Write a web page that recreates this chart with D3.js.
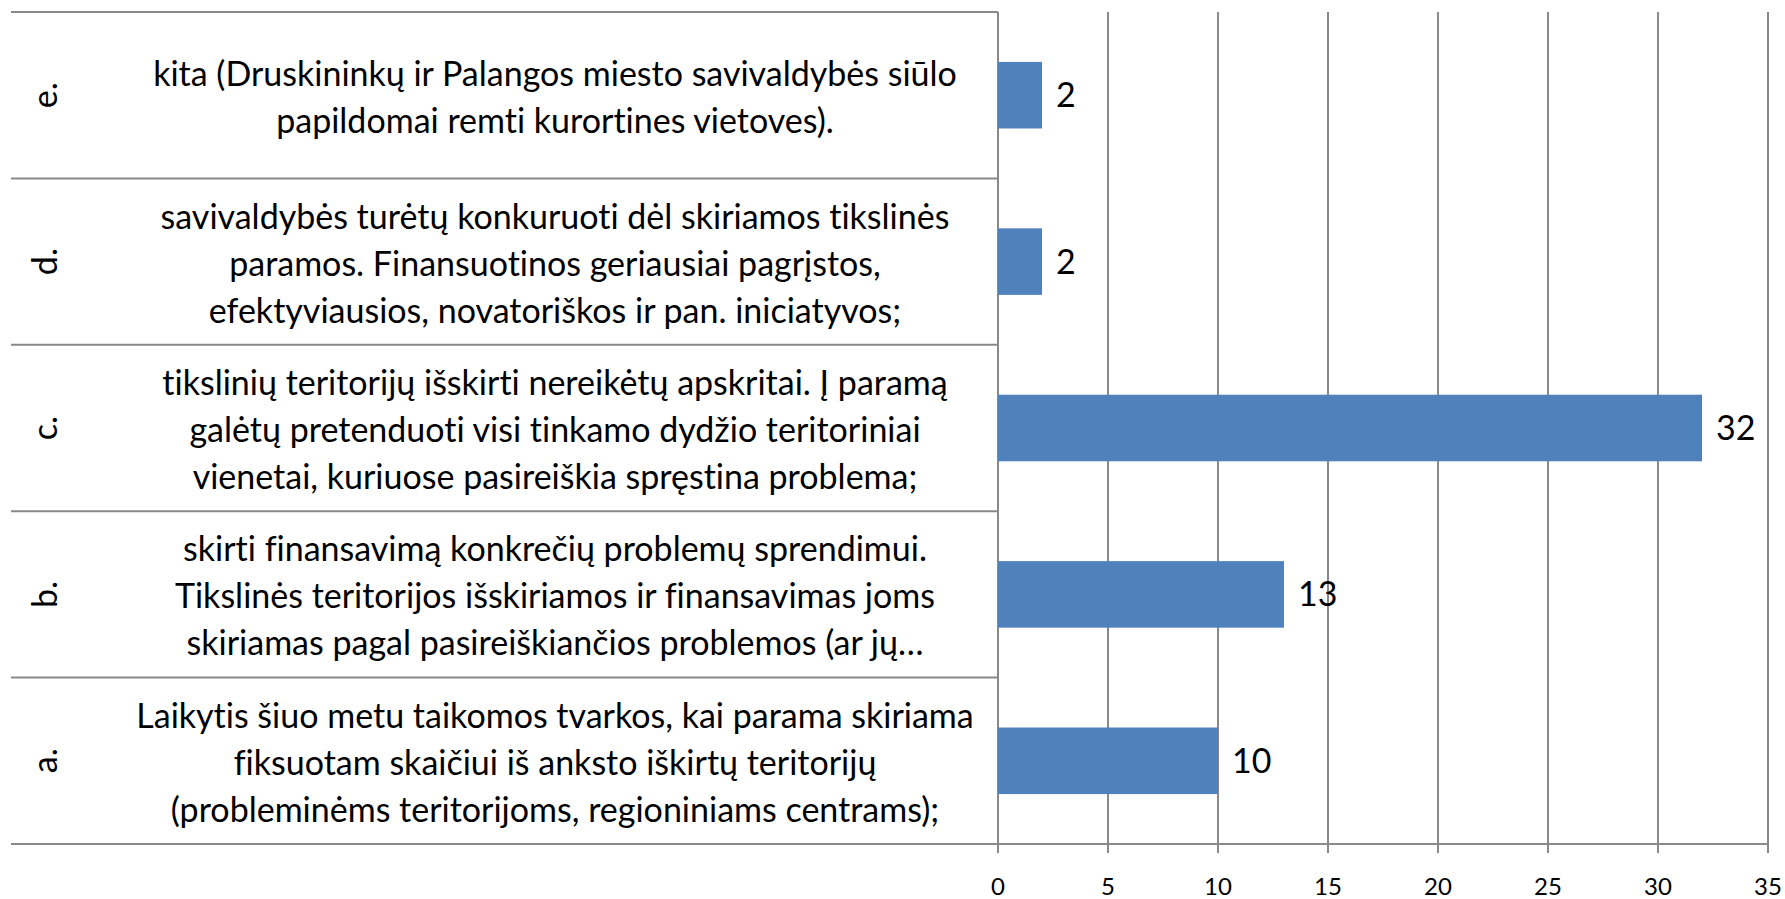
<!DOCTYPE html>
<html>
<head>
<meta charset="utf-8">
<script src="https://cdn.jsdelivr.net/npm/d3@7"></script>
<style>
  html, body { margin: 0; padding: 0; background: #fff; }
  svg { display: block; }
  text { font-family: Lato, "Open Sans", sans-serif; fill: #000; font-variant-ligatures: none; }
</style>
</head>
<body>
<svg id="chart" width="1785" height="899"></svg>
<script>
// ---- data ----
const categories = ["e.", "d.", "c.", "b.", "a."];
const values = [2, 2, 32, 13, 10];
const descriptions = [
  ["kita (Druskininkų ir Palangos miesto savivaldybės siūlo", "papildomai remti kurortines vietoves)."],
  ["savivaldybės turėtų konkuruoti dėl skiriamos tikslinės", "paramos. Finansuotinos geriausiai pagrįstos,", "efektyviausios, novatoriškos ir pan. iniciatyvos;"],
  ["tikslinių teritorijų išskirti nereikėtų apskritai. Į paramą", "galėtų pretenduoti visi tinkamo dydžio teritoriniai", "vienetai, kuriuose pasireiškia spręstina problema;"],
  ["skirti finansavimą konkrečių problemų sprendimui.", "Tikslinės teritorijos išskiriamos ir finansavimas joms", "skiriamas pagal pasireiškiančios problemos (ar jų…"],
  ["Laikytis šiuo metu taikomos tvarkos, kai parama skiriama", "fiksuotam skaičiui iš anksto iškirtų teritorijų", "(probleminėms teritorijoms, regioniniams centrams);"]
];
const xTicks = [0, 5, 10, 15, 20, 25, 30, 35];

// ---- layout ----
const tableLeft = 11, plotLeft = 998, plotRight = 1768, plotTop = 12, plotBottom = 844;
const gridColor = "#898989";
const barColor = "#4F81BD";
const textSize = 34, valueSize = 34, tickSize = 24, lineGap = 47;

const svg = d3.select("#chart");
const x = d3.scaleLinear().domain([0, 35]).range([plotLeft, plotRight]);
const y = d3.scaleBand().domain(categories).range([plotTop, plotBottom]).paddingInner(0.6).paddingOuter(0.3);
const step = y.step();

// vertical gridlines + ticks below axis
svg.append("g").selectAll("line").data(xTicks).join("line")
  .attr("x1", d => x(d)).attr("x2", d => x(d))
  .attr("y1", plotTop).attr("y2", plotBottom + 9)
  .attr("stroke", gridColor).attr("stroke-width", 2);

// horizontal band boundary lines in table
const boundaries = d3.range(categories.length + 1).map(i => plotTop + i * step);
svg.append("g").selectAll("line").data(boundaries).join("line")
  .attr("x1", tableLeft).attr("x2", (d, i) => i === categories.length ? plotRight : plotLeft)
  .attr("y1", d => d).attr("y2", d => d)
  .attr("stroke", gridColor).attr("stroke-width", 2);

// bars
svg.append("g").selectAll("rect").data(categories).join("rect")
  .attr("x", x(0))
  .attr("y", d => y(d))
  .attr("width", (d, i) => x(values[i]) - x(0))
  .attr("height", y.bandwidth())
  .attr("fill", barColor);

// value labels
svg.append("g").selectAll("text").data(categories).join("text")
  .attr("x", (d, i) => x(values[i]) + 14)
  .attr("y", d => y(d) + y.bandwidth() / 2)
  .attr("dy", "0.35em")
  .attr("font-size", valueSize)
  .text((d, i) => values[i]);

// x tick labels
svg.append("g").selectAll("text").data(xTicks).join("text")
  .attr("x", d => x(d))
  .attr("y", 887)
  .attr("dy", "0.35em")
  .attr("text-anchor", "middle")
  .attr("font-size", tickSize)
  .text(d => d);

// letter labels (rotated)
svg.append("g").selectAll("text").data(categories).join("text")
  .attr("transform", d => `translate(45, ${y(d) + y.bandwidth() / 2}) rotate(-90)`)
  .attr("text-anchor", "middle")
  .attr("dy", "0.35em")
  .attr("font-size", textSize)
  .text(d => d);

// description text
const desc = svg.append("g");
categories.forEach((c, i) => {
  const lines = descriptions[i];
  const cy = y(c) + y.bandwidth() / 2;
  const n = lines.length;
  lines.forEach((ln, j) => {
    desc.append("text")
      .attr("x", 555)
      .attr("y", cy + (j - (n - 1) / 2) * lineGap + 2)
      .attr("dy", "0.35em")
      .attr("text-anchor", "middle")
      .attr("font-size", textSize)
      .text(ln);
  });
});
</script>
</body>
</html>
